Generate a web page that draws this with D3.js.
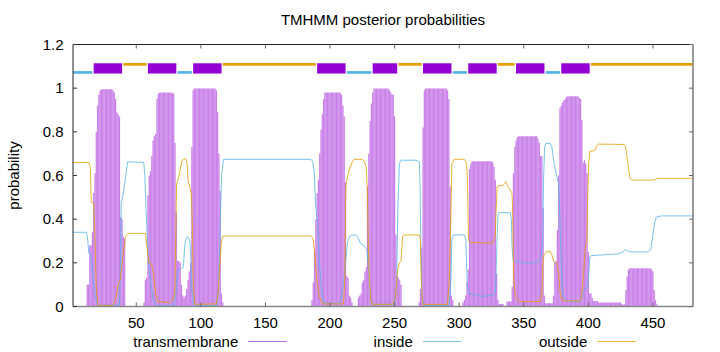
<!DOCTYPE html>
<html>
<head>
<meta charset="utf-8">
<script src="https://cdn.jsdelivr.net/npm/d3@7"></script>
<style>
	body { margin: 0; background: #fff; }
	text { font-family: "Liberation Sans", Arial, sans-serif; font-size: 15px; fill: #000; }
</style>
</head>
<body>
<svg id="chart" width="720" height="352"></svg>
<script>
// TM posterior probability, one value per residue (1..481)
const tmProb = [
	0,0,0,0,0,0,0,0,0,0, 0,0.10,0.10,0.28,0.28,0.34,0.52,0.61,0.80,0.92,
	0.97,0.99,0.995,0.995,0.995,0.995,0.995,0.995,0.995,0.995, 0.995,0.99,0.98,0.95,0.89,0.88,0.87,0.41,0.40,0.32,
	0.31,0,0,0,0,0,0,0,0,0, 0,0,0,0,0,0.02,0.12,0.13,0.51,0.60,
	0.62,0.69,0.76,0.78,0.79,0.95,0.975,0.98,0.98,0.98, 0.98,0.98,0.98,0.98,0.98,0.98,0.98,0.978,0.975,0.75,
	0.43,0.21,0.21,0.20,0.10,0.05,0.04,0.05,0.08,0.12, 0.16,0.20,0.73,0.99,0.999,0.999,0.999,0.999,0.999,0.999,
	0.999,0.999,0.999,0.999,0.999,0.999,0.999,0.999,0.999,0.999, 0.999,0.99,0.89,0.70,0.53,0.06,0.02,0,0,0,
	0,0,0,0,0,0,0,0,0,0, 0,0,0,0,0,0,0,0,0,0,
	0,0,0,0,0,0,0,0,0,0, 0,0,0,0,0,0,0,0,0,0,
	0,0,0,0,0,0,0,0,0,0, 0,0,0,0,0,0,0,0,0,0,
	0,0,0,0,0,0.03,0.11,0.26,0.40,0.52, 0.58,0.70,0.81,0.88,0.95,0.98,0.98,0.98,0.98,0.98,
	0.98,0.98,0.98,0.98,0.98,0.98,0.98,0.98,0.97,0.92, 0.87,0.57,0.14,0.13,0.05,0.04,0.02,0,0,0,
	0,0.04,0.05,0.06,0.11,0.12,0.16,0.18,0.55,0.70, 0.85,0.93,0.98,0.998,0.998,0.998,0.998,0.998,0.998,0.998,
	0.998,0.998,0.998,0.998,0.998,0.99,0.98,0.97,0.97,0.87, 0.33,0.14,0.13,0.12,0.10,0,0,0,0,0,
	0,0,0,0,0,0,0,0,0.02,0.08, 0.27,0.82,0.99,0.999,0.999,0.999,0.999,0.999,0.999,0.999,
	0.999,0.999,0.999,0.999,0.999,0.999,0.999,0.999,0.999,0.999, 0.99,0.95,0.55,0.05,0.03,0,0,0,0,0,
	0,0,0.02,0.03,0.05,0.11,0.17,0.63,0.655,0.665, 0.665,0.665,0.665,0.665,0.665,0.665,0.665,0.665,0.665,0.665,
	0.665,0.665,0.665,0.665,0.665,0.66,0.64,0.58,0.15,0.03, 0.012,0.012,0.012,0.012,0,0,0.023,0.023,0.023,0.023,
	0.09,0.61,0.73,0.76,0.775,0.78,0.78,0.78,0.78,0.78, 0.78,0.78,0.78,0.78,0.78,0.78,0.78,0.78,0.78,0.78,
	0.77,0.75,0.69,0.69,0.45,0.05,0.015,0.015,0.015,0.015, 0.015,0.015,0.05,0.20,0.21,0.35,0.60,0.91,0.92,0.935,
	0.945,0.95,0.96,0.963,0.963,0.963,0.963,0.963,0.963,0.963, 0.963,0.963,0.955,0.95,0.854,0.66,0.67,0.655,0.61,0.25,
	0.06,0.06,0.04,0.025,0.025,0.025,0.025,0.018,0.018,0.018, 0.018,0.018,0.018,0.018,0.018,0.018,0.018,0.018,0.018,0.018,
	0.018,0.018,0.018,0.018,0.018,0.012,0.008,0.01,0.076,0.137, 0.17,0.175,0.175,0.175,0.175,0.175,0.175,0.175,0.175,0.175,
	0.175,0.175,0.175,0.175,0.175,0.175,0.175,0.175,0.17,0.16, 0.076,0.03,0.01,0,0,0,0,0,0,0,
	0,0,0,0,0,0,0,0,0,0, 0,0,0,0,0,0,0,0,0,0, 0
];

// inside / outside posterior curves, [residue, probability]
const insidePts = [
	[1,0.34],[11.5,0.34],[12.5,0.30],[13.2,0.245],[14.5,0.243],[15.5,0.20],[16.5,0.13],[18,0.06],[19.5,0.01],[21,0.005],
	[37,0.005],[37.8,0.2],[38.3,0.47],[39.3,0.50],[41,0.56],[43.3,0.663],[55.8,0.66],[56.6,0.60],[57.5,0.45],[58.5,0.32],
	[59.7,0.19],[61,0.12],[62.8,0.04],[64.5,0.01],[66,0.005],[79,0.005],[80.5,0.05],[81.5,0.13],[82.5,0.168],[85,0.175],
	[86.5,0.18],[87.5,0.28],[88.5,0.31],[89.5,0.32],[90.5,0.315],[91.5,0.30],[92.2,0.22],[93,0.08],[94,0.02],[95,0.005],
	[112.5,0.005],[113.5,0.06],[115,0.38],[116,0.6],[117.5,0.674],[185.2,0.674],[186.5,0.665],[187.7,0.62],[189,0.45],[190.3,0.39],
	[191.5,0.23],[192.8,0.12],[194,0.05],[195.5,0.015],[207,0.012],[208.5,0.03],[210.5,0.12],[212.2,0.21],[213.5,0.29],[215,0.32],
	[217.3,0.328],[220,0.328],[221.7,0.315],[223.5,0.29],[226,0.28],[228.5,0.26],[229.5,0.2],[230.3,0.12],[231.5,0.03],[233,0.01],
	[250,0.01],[251.6,0.12],[252.4,0.43],[253.7,0.655],[254.9,0.67],[266.5,0.67],[269.1,0.663],[269.6,0.58],[270.4,0.27],[271.2,0.06],
	[272.5,0.005],[292.3,0.005],[293.6,0.12],[294.3,0.305],[295.4,0.328],[303.9,0.328],[305.2,0.305],[305.7,0.18],[306.4,0.09],[307.7,0.06],
	[315.5,0.049],[317.7,0.046],[326.7,0.053],[328,0.06],[328.8,0.2],[329.3,0.305],[330.1,0.427],[331.1,0.43],[339.6,0.43],[340.4,0.396],
	[340.9,0.274],[341.7,0.213],[343.5,0.206],[353.8,0.198],[361.5,0.206],[363.5,0.229],[364.6,0.305],[365.3,0.58],[366.1,0.73],[367.1,0.747],
	[370.5,0.747],[371.8,0.73],[373.1,0.67],[374.4,0.625],[375.6,0.595],[376.9,0.564],[377.7,0.457],[378.2,0.35],[379,0.198],[380,0.06],
	[382.1,0.03],[386,0.023],[393.7,0.023],[395,0.046],[396.3,0.069],[398.8,0.088],[399.9,0.12],[401.2,0.229],[402.5,0.233],[423,0.241],
	[426.9,0.25],[428.2,0.26],[429.5,0.257],[432.1,0.25],[446.2,0.25],[448.3,0.26],[450.1,0.335],[451.4,0.389],[452.7,0.41],[456.5,0.415],
	[481,0.415]
];
const outsidePts = [
	[1,0.66],[13.4,0.66],[14.4,0.637],[15.2,0.476],[17,0.473],[18,0.305],[19,0.09],[20.3,0.005],[31.4,0.005],[33.2,0.023],
	[35,0.06],[36.3,0.107],[37.6,0.122],[39.6,0.229],[41.7,0.32],[43.5,0.335],[57.1,0.335],[58.2,0.274],[59.7,0.206],[61.8,0.195],
	[63.3,0.152],[64.9,0.061],[66.7,0.023],[75.7,0.018],[78.3,0.03],[79.8,0.06],[80.5,0.3],[81.2,0.56],[82.9,0.595],[85.5,0.67],
	[88.3,0.677],[89.3,0.655],[90.1,0.58],[91.9,0.534],[92.7,0.51],[93.5,0.35],[94,0.12],[95.3,0.01],[112,0.012],[113.3,0.06],
	[114.6,0.18],[115.9,0.30],[117.1,0.323],[185.2,0.323],[186,0.32],[187.2,0.30],[188.2,0.24],[189.8,0.122],[191.6,0.046],[194.2,0.012],
	[210.4,0.012],[211.4,0.12],[212.2,0.549],[213,0.58],[214.8,0.625],[217.3,0.663],[218.6,0.674],[225,0.674],[226.8,0.663],[227.9,0.64],
	[228.9,0.53],[229.4,0.35],[230.2,0.15],[231.5,0.03],[232.8,0.01],[248.5,0.01],[250.5,0.04],[252.4,0.168],[253.7,0.2],[254.9,0.206],
	[256.2,0.32],[257,0.328],[269.1,0.328],[269.9,0.305],[270.6,0.12],[271.7,0.01],[291,0.01],[292.3,0.12],[293.6,0.427],[294.3,0.655],
	[296.1,0.674],[303.9,0.674],[305.7,0.655],[306.4,0.58],[307.2,0.305],[308.2,0.293],[325.4,0.29],[326.7,0.305],[327.9,0.32],[328.5,0.43],
	[329.3,0.549],[330.1,0.552],[331.9,0.555],[333.7,0.552],[335.2,0.564],[336.2,0.572],[337.8,0.549],[339.6,0.534],[340.9,0.518],[341.4,0.427],
	[342.2,0.122],[343.5,0.046],[346,0.023],[362.8,0.023],[364.1,0.061],[364.8,0.2],[365.6,0.236],[367.9,0.252],[370.5,0.252],[371.8,0.236],
	[373.1,0.206],[375.6,0.198],[376.9,0.152],[378.2,0.061],[379.5,0.03],[382.1,0.026],[393.7,0.026],[395,0.061],[396.3,0.152],[397.5,0.26],
	[398.8,0.30],[399.5,0.5],[400.3,0.66],[401.2,0.71],[405,0.715],[406.3,0.735],[407.6,0.744],[427.7,0.742],[428.6,0.735],[429.5,0.705],
	[430.8,0.643],[432.1,0.59],[433.4,0.579],[448.8,0.579],[451.4,0.582],[454,0.587],[481,0.587]
];

// predicted topology segments [start, end]
const topoInside = [[1,16],[82,93],[213,232],[295,306],[367,378]];
const topoTM = [[17,39],[59,81],[94,116],[190,212],[233,252],[272,294],[307,329],[344,366],[379,401]];
const topoOutside = [[40,58],[117,189],[253,271],[330,343],[402,481]];

const xTicks = [50, 100, 150, 200, 250, 300, 350, 400, 450];
const yTicks = [0, 0.2, 0.4, 0.6, 0.8, 1, 1.2];
const yTickLabels = ["0", "0.2", "0.4", "0.6", "0.8", "1", "1.2"];
const legendNames = ["transmembrane", "inside", "outside"];

const colTM = "#9400d3", colIn = "#56b4e9", colOut = "#e69f00";

const svg = d3.select("#chart");
const x = d3.scaleLinear().domain([1, 481]).range([73, 693]);
const y = d3.scaleLinear().domain([0, 1.2]).range([306.5, 44.5]);

// TM impulses
svg.append("g")
	.selectAll("line")
	.data(tmProb)
	.join("line")
	.attr("x1", (d, i) => x(i + 1))
	.attr("x2", (d, i) => x(i + 1))
	.attr("y1", y(0))
	.attr("y2", d => y(d))
	.attr("stroke", colTM)
	.attr("stroke-opacity", 0.5)
	.attr("stroke-width", 1.2);

// inside / outside curves
const line = d3.line().x(d => x(d[0])).y(d => y(d[1]));
svg.append("path").datum(insidePts).attr("d", line)
	.attr("fill", "none").attr("stroke", colIn).attr("stroke-opacity", 0.8).attr("stroke-width", 1);
svg.append("path").datum(outsidePts).attr("d", line)
	.attr("fill", "none").attr("stroke", colOut).attr("stroke-opacity", 0.8).attr("stroke-width", 1);

// topology bar on top
const topo = svg.append("g");
topo.selectAll("rect.in")
	.data(topoInside)
	.join("rect")
	.attr("class", "in")
	.attr("x", d => x(d[0]))
	.attr("width", d => x(d[1]) - x(d[0]))
	.attr("y", y(1.072) - 1.35)
	.attr("height", 2.7)
	.attr("fill", colIn);
topo.selectAll("rect.out")
	.data(topoOutside)
	.join("rect")
	.attr("class", "out")
	.attr("x", d => x(d[0]))
	.attr("width", d => x(d[1]) - x(d[0]))
	.attr("y", y(1.109) - 1.35)
	.attr("height", 2.7)
	.attr("fill", colOut);
topo.selectAll("rect.tm")
	.data(topoTM)
	.join("rect")
	.attr("class", "tm")
	.attr("x", d => x(d[0]))
	.attr("width", d => x(d[1]) - x(d[0]))
	.attr("y", y(1.114))
	.attr("height", y(1.067) - y(1.114))
	.attr("fill", colTM);

// border and tics
const x0 = x.range()[0], x1 = x.range()[1], y0 = y.range()[0], y1 = y.range()[1];
const frame = svg.append("g");
frame.append("line").attr("x1", x0).attr("x2", x1).attr("y1", y1).attr("y2", y1).attr("stroke", "#222");
frame.append("line").attr("x1", x0).attr("x2", x0).attr("y1", y1).attr("y2", y0).attr("stroke", "#222");
frame.append("line").attr("x1", x0).attr("x2", x1).attr("y1", y0).attr("y2", y0).attr("stroke", "#888").attr("stroke-width", 1.7);
frame.append("line").attr("x1", x1).attr("x2", x1).attr("y1", y1).attr("y2", y0).attr("stroke", "#888").attr("stroke-width", 1.7);

yTicks.forEach((t, i) => {
	frame.append("line").attr("x1", x0).attr("x2", x0 + 4).attr("y1", y(t)).attr("y2", y(t)).attr("stroke", "#333");
	frame.append("line").attr("x1", x1 - 4).attr("x2", x1).attr("y1", y(t)).attr("y2", y(t)).attr("stroke", "#666");
	frame.append("text").attr("x", 63.5).attr("y", y(t) + 5.3)
		.attr("text-anchor", "end").text(yTickLabels[i]);
});
xTicks.forEach(t => {
	frame.append("line").attr("x1", x(t)).attr("x2", x(t)).attr("y1", y1).attr("y2", y1 + 4).attr("stroke", "#666");
	frame.append("line").attr("x1", x(t)).attr("x2", x(t)).attr("y1", y0).attr("y2", y0 - 4).attr("stroke", "#666");
	frame.append("text").attr("x", x(t)).attr("y", 328)
		.attr("text-anchor", "middle").text(t);
});

// titles
svg.append("text").attr("x", (x0 + x1) / 2).attr("y", 25)
	.attr("text-anchor", "middle").text("TMHMM posterior probabilities");
svg.append("text").attr("transform", "translate(18.5," + (y0 + y1) / 2 + ") rotate(-90)")
	.attr("text-anchor", "middle").text("probability");

// legend
const legendCols = [colTM, colIn, colOut];
const legend = svg.append("g");
legendNames.forEach((name, i) => {
	const ex = 238.3 + i * 174.5;
	legend.append("text").attr("x", ex).attr("y", 346.5).attr("text-anchor", "end").text(name);
	legend.append("line").attr("x1", ex + 10).attr("x2", ex + 48.5)
		.attr("y1", 341.5).attr("y2", 341.5)
		.attr("stroke", legendCols[i]).attr("stroke-opacity", i === 0 ? 0.6 : 0.8).attr("stroke-width", 1);
});
</script>
</body>
</html>
